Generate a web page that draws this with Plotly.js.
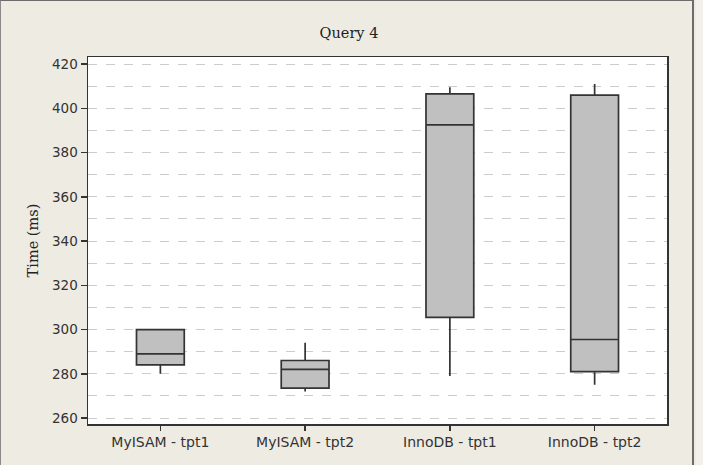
<!DOCTYPE html>
<html>
<head>
<meta charset="utf-8">
<script src="https://cdn.plot.ly/plotly-3.0.1.min.js"></script>
<style>
  html, body { margin: 0; padding: 0; background: #eeebe3; }
  #wrap { position: relative; width: 703px; height: 465px; overflow: hidden; }
  #chart { width: 703px; height: 465px; }
  #frame { position: absolute; left: 0; top: 0; width: 694px; height: 465px;
           border-top: 1px solid #6b6b6b; border-left: 1px solid #8a8a8a; border-right: 2px solid #6b6b6b;
           box-sizing: border-box; pointer-events: none; }
  #edge { position: absolute; left: 696px; top: 0; width: 7px; height: 465px; background: #f2f0ea; pointer-events: none; }
</style>
</head>
<body>
<div id="wrap">
  <div id="chart"></div>
  <div id="edge"></div>
  <div id="frame"></div>
</div>
<script>
const categories = ["MyISAM - tpt1", "MyISAM - tpt2", "InnoDB - tpt1", "InnoDB - tpt2"];
const lowerWhisker = [280, 272, 279, 275];
const q1Values     = [284, 273.5, 305.5, 281];
const medianValues = [289, 282, 392.5, 295.5];
const q3Values     = [300, 286, 406.5, 406];
const upperWhisker = [300, 294, 409.5, 411];
const yTicks = [260, 280, 300, 320, 340, 360, 380, 400, 420];

const trace = {
  type: "box",
  x: categories,
  q1: q1Values,
  median: medianValues,
  q3: q3Values,
  lowerfence: lowerWhisker,
  upperfence: upperWhisker,
  width: 0.33,
  whiskerwidth: 0,
  fillcolor: "#c0c0c0",
  line: { color: "#333333", width: 1.7 },
  hoverinfo: "skip",
  showlegend: false
};

const layout = {
  width: 703,
  height: 465,
  paper_bgcolor: "#eeebe3",
  plot_bgcolor: "#ffffff",
  margin: { l: 88, r: 36, t: 57, b: 41, pad: 0 },
  title: {
    text: "Query 4",
    font: { family: "DejaVu Serif", size: 14.5, color: "#222222" },
    x: 349 / 703, xanchor: "center", xref: "container",
    y: 1 - 33 / 465, yanchor: "middle", yref: "container"
  },
  xaxis: {
    type: "category",
    range: [-0.5, 3.5],
    showline: true, linecolor: "#333333", linewidth: 1.5, mirror: true,
    ticks: "outside", ticklen: 5, tickcolor: "#333333", tickwidth: 1.5,
    showgrid: false, zeroline: false,
    tickfont: { family: "DejaVu Sans", size: 14, color: "#333333" }
  },
  yaxis: {
    range: [257.3, 423.2],
    tickvals: yTicks,
    showline: true, linecolor: "#333333", linewidth: 1.5, mirror: true,
    ticks: "outside", ticklen: 6, tickcolor: "#333333", tickwidth: 1.5,
    showgrid: true, gridcolor: "#cccccc", gridwidth: 1, griddash: "dash",
    minor: { dtick: 10, showgrid: true, gridcolor: "#cccccc", gridwidth: 1, griddash: "dash", ticks: "" },
    zeroline: false,
    tickfont: { family: "DejaVu Sans", size: 13.5, color: "#333333" },
    title: { text: "Time (ms)", font: { family: "DejaVu Serif", size: 14.5, color: "#222222" }, standoff: 10 }
  }
};

Plotly.newPlot("chart", [trace], layout, { staticPlot: true, displayModeBar: false });
</script>
</body>
</html>
